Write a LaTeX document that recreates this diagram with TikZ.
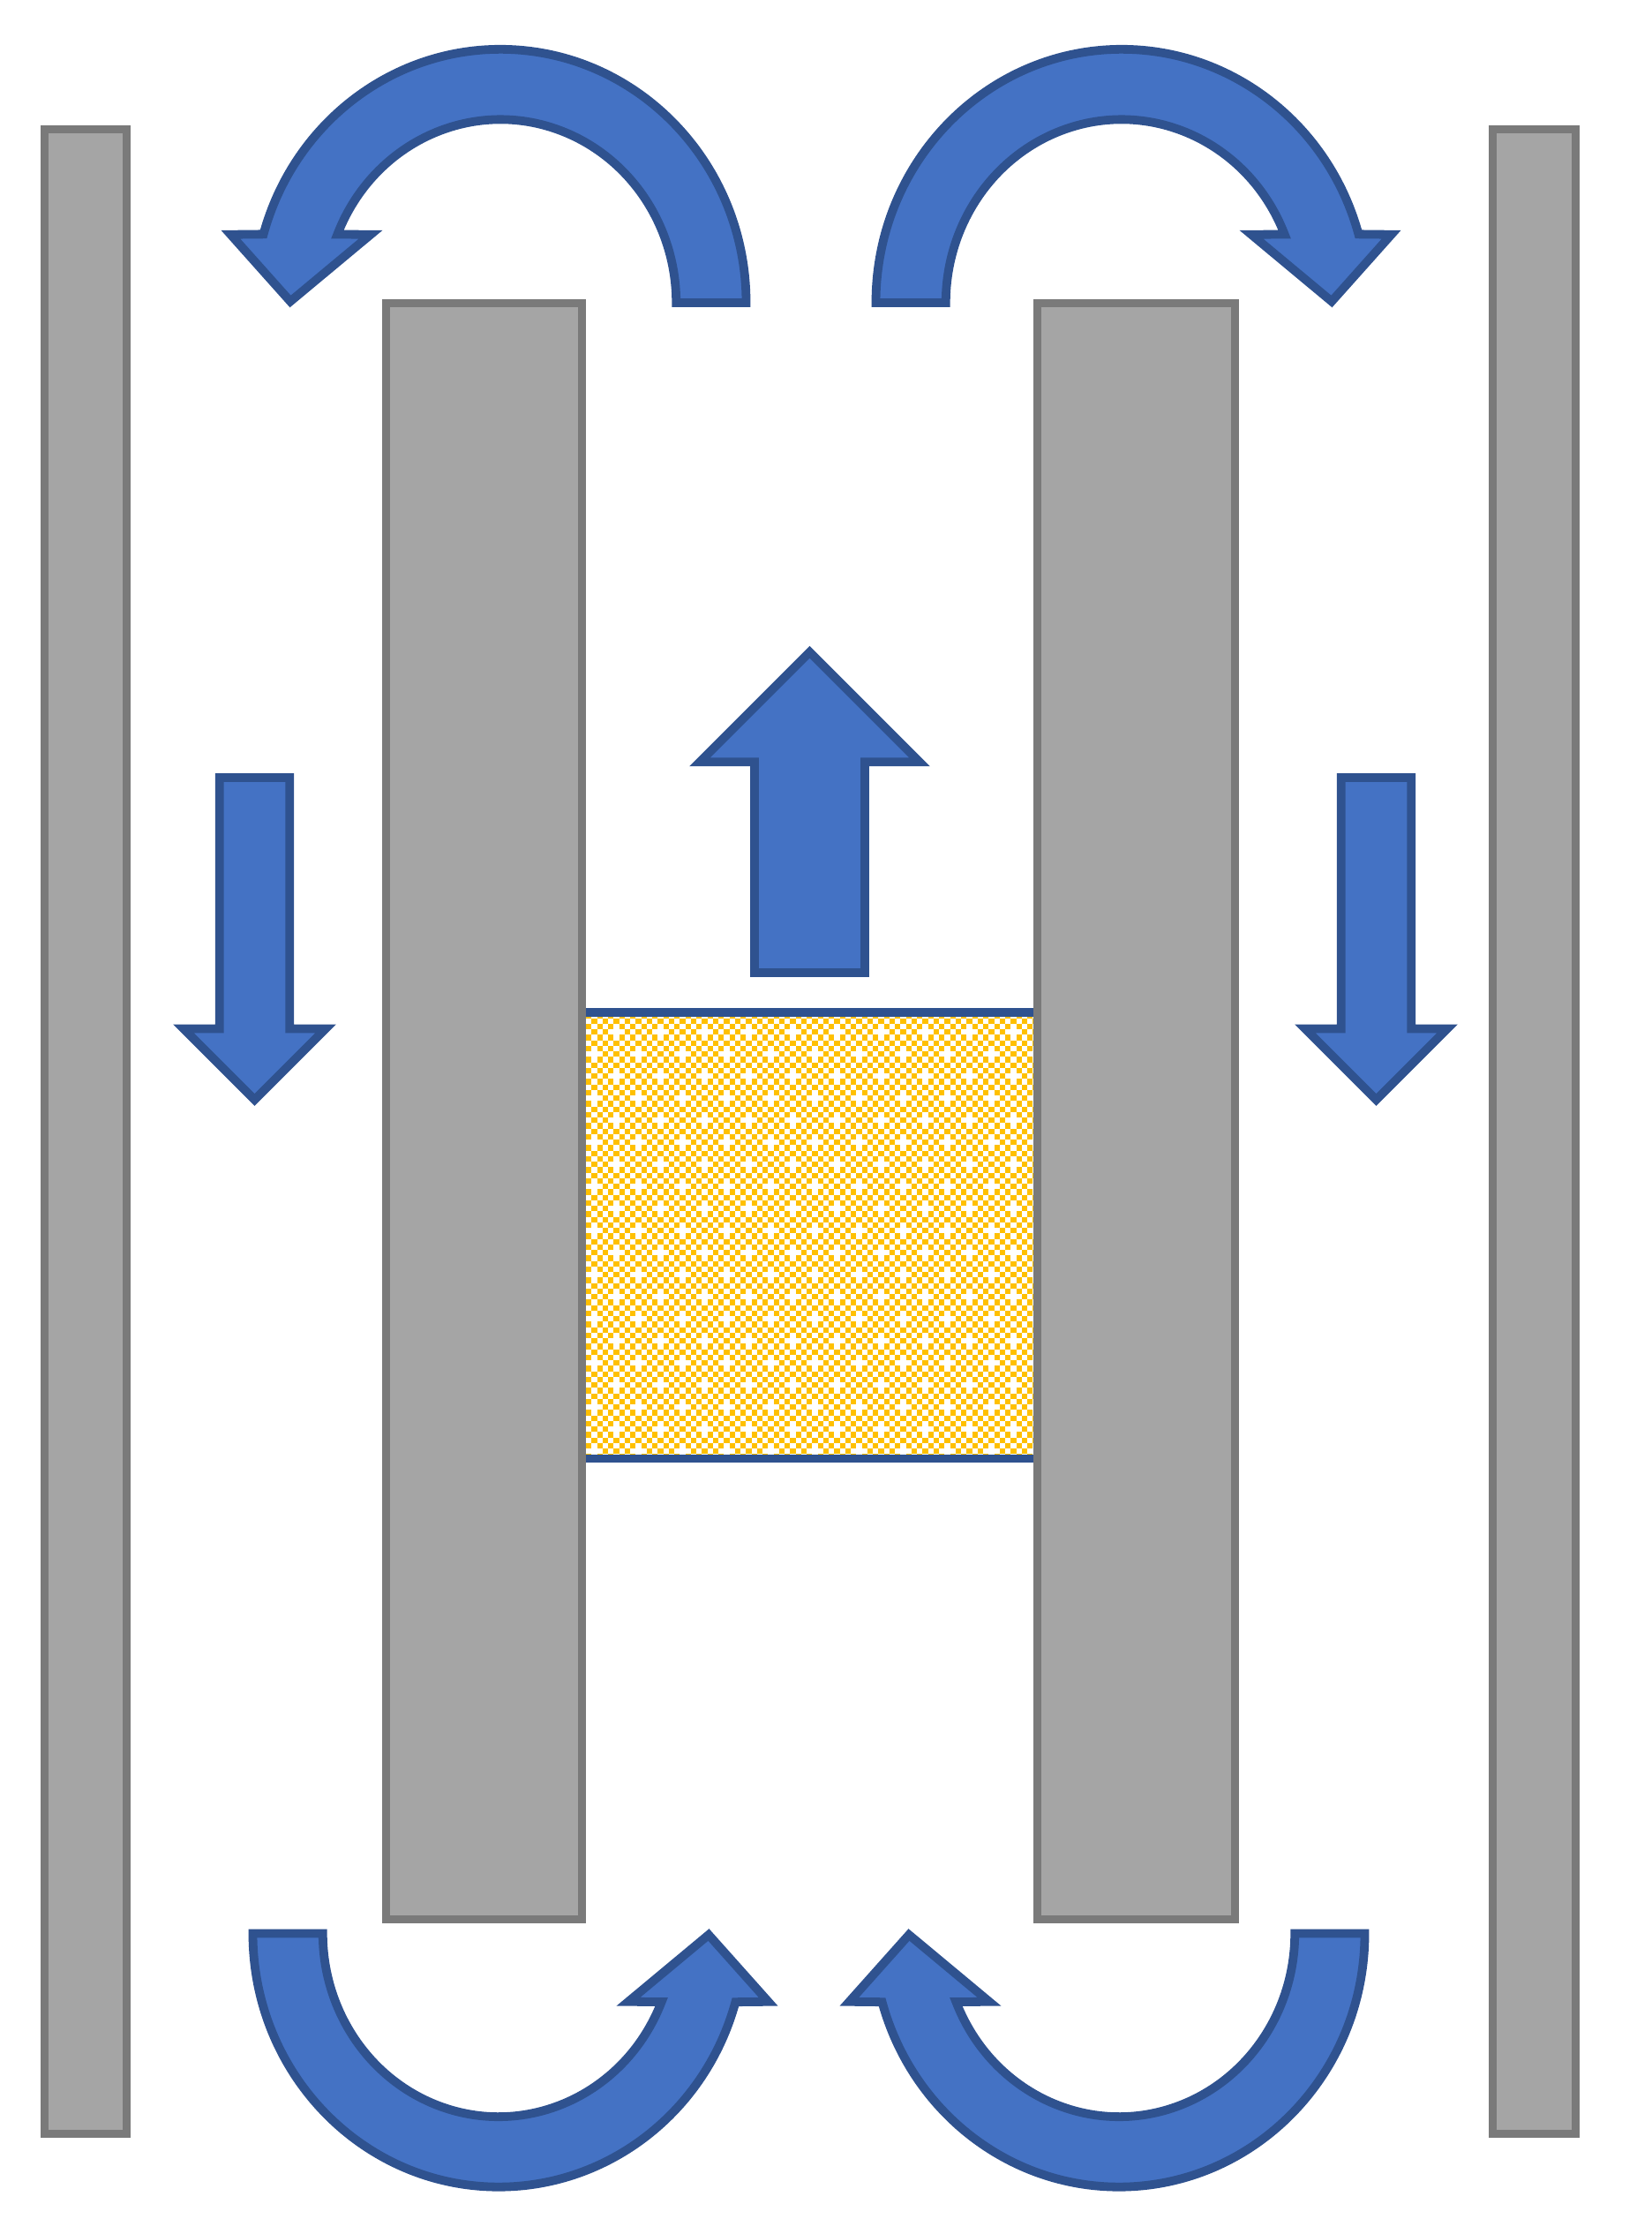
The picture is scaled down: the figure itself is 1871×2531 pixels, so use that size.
\documentclass[tikz,border=0pt]{standalone}
\definecolor{barfill}{HTML}{A5A5A5}
\definecolor{barline}{HTML}{7A7A7A}
\definecolor{flowfill}{HTML}{4472C4}
\definecolor{flowline}{HTML}{2F528F}
\definecolor{dots}{HTML}{FFC000}
\tikzset{
  bar/.style={fill=barfill,draw=barline,line width=0.09cm,line join=miter},
  flow/.style={fill=flowfill,draw=flowline,line width=0.098cm,line join=miter,miter limit=20},
  bendarrow/.pic={
    \path[flow] (278.5,0)
      arc[start angle=0,end angle=164.31,x radius=2.785cm,y radius=2.87cm]
      -- (-305.6,77.25) -- (-238,1.5) -- (-147,77.25) -- (-184.6,77.5)
      arc[start angle=158.07,end angle=0,x radius=1.99cm,y radius=2.075cm]
      -- cycle;
  },
  downarrow/.pic={
    \path[flow] (-39.7,0) -- (39.7,0) -- (39.7,-284.5) -- (80.5,-284.5) -- (0,-365)
      -- (-80.5,-284.5) -- (-39.7,-284.5) -- cycle;
  }
}
\begin{document}
\begin{tikzpicture}[x=0.01cm,y=0.01cm]
\useasboundingbox (0,-2531) rectangle (1871,0);
% porous block
\begin{scope}
  \clip (664,-1147) rectangle (1172,-1652);
  \foreach \i in {0,...,81}{
    \foreach \j in {-1,...,80}{
      \ifodd\numexpr\i+\j+2\relax
        \pgfmathtruncatemacro{\mi}{mod(\i,8)}
        \pgfmathtruncatemacro{\mj}{mod(\j+8,8)}
        \pgfmathtruncatemacro{\skipcell}{(\mi==5 && \mj==2) || (\mi==1 && \mj==6) ? 1 : 0}
        \ifnum\skipcell=0
          \fill[dots] ({664+\i*6.25},{-1153.67-\j*6.25}) rectangle ++(6.25,-6.25);
        \fi
      \fi
    }
  }
\end{scope}
\path[draw=flowline,line width=0.095cm] (650,-1147) rectangle (1190,-1652.5);
% bars
\path[bar] (50.5,-146.5) rectangle (143.5,-2417.5);
\path[bar] (1691.5,-146.5) rectangle (1785.5,-2417.5);
\path[bar] (437.5,-343.5) rectangle (659.5,-2174.5);
\path[bar] (1175.5,-343.5) rectangle (1399.5,-2174.5);
% up arrow
\path[flow] (855,-1102) -- (980,-1102) -- (980,-863.2) -- (1042,-863.2) -- (917.5,-738.7)
  -- (793,-863.2) -- (855,-863.2) -- cycle;
% down arrows
\pic at (288.5,-881) {downarrow};
\pic at (1559.5,-881) {downarrow};
% curved arrows
\pic at (567,-343) {bendarrow};
\pic[xscale=-1] at (1271,-343) {bendarrow};
\pic[rotate=180] at (565,-2190.5) {bendarrow};
\pic[yscale=-1] at (1268,-2190.5) {bendarrow};
\end{tikzpicture}
\end{document}
